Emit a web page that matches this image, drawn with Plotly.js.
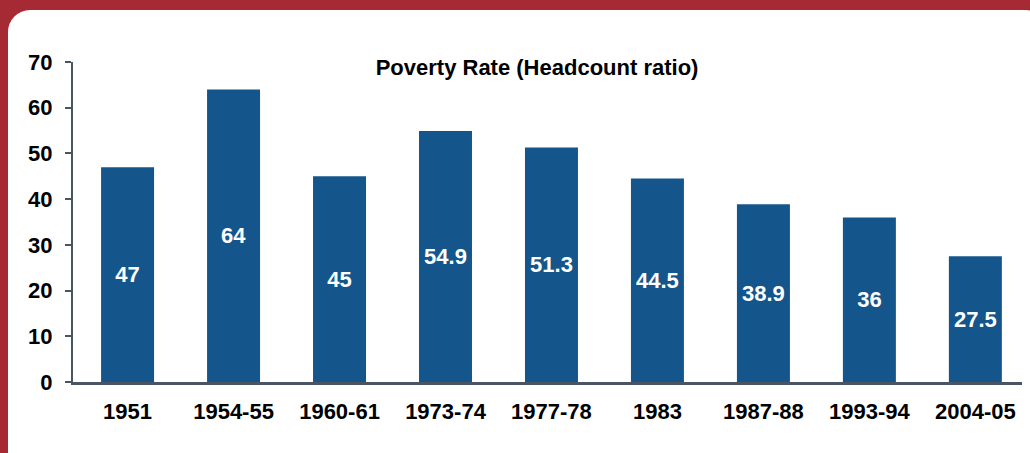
<!DOCTYPE html>
<html>
<head>
<meta charset="utf-8">
<script src="https://cdn.plot.ly/plotly-3.0.1.min.js"></script>
<style>
  html, body { margin: 0; padding: 0; width: 1030px; height: 453px; overflow: hidden; background: #a52a33; }
  #panel { position: absolute; left: 8px; top: 10px; width: 1040px; height: 460px; background: #ffffff;
           border-top-left-radius: 22px; border-top-right-radius: 22px; border-bottom-left-radius: 14px; }
  #chart { position: absolute; left: 0; top: 0; width: 1030px; height: 453px; }
</style>
</head>
<body>
<div id="panel"></div>
<div id="chart"></div>
<script>
const categories = ["1951", "1954-55", "1960-61", "1973-74", "1977-78", "1983", "1987-88", "1993-94", "2004-05"];
const povertyRate = [47, 64, 45, 54.9, 51.3, 44.5, 38.9, 36, 27.5];
const yTicks = [0, 10, 20, 30, 40, 50, 60, 70];

const FONT = "Arial, 'Liberation Sans', sans-serif";

const trace = {
  type: "bar",
  x: categories,
  y: povertyRate,
  text: povertyRate.map(String),
  textposition: "inside",
  insidetextanchor: "middle",
  textangle: 0,
  constraintext: "none",
  textfont: { family: FONT, size: 22, color: "#ffffff", weight: "bold" },
  marker: { color: "#14568b", line: { width: 0 } },
  width: 0.5,
  hoverinfo: "x+y"
};

const layout = {
  width: 1030,
  height: 453,
  paper_bgcolor: "rgba(0,0,0,0)",
  plot_bgcolor: "rgba(0,0,0,0)",
  margin: { l: 73, r: 8, t: 62, b: 71, pad: 0 },
  showlegend: false,
  title: {
    text: "<b>Poverty Rate (Headcount ratio)</b>",
    font: { family: FONT, size: 22, color: "#000000" },
    xref: "container", x: 0.5214, xanchor: "center",
    yref: "container", y: 0.852, yanchor: "middle"
  },
  xaxis: {
    type: "category",
    range: [-0.515, 8.44],
    showline: true, linecolor: "#4a5563", linewidth: 3,
    ticks: "", showgrid: false, zeroline: false,
    tickfont: { family: FONT, size: 22, color: "#000000", weight: "bold" },
    ticklabelstandoff: 8
  },
  yaxis: {
    range: [0, 70],
    tickvals: yTicks,
    ticktext: yTicks.map(String),
    showline: true, linecolor: "#4a5563", linewidth: 2,
    ticks: "outside", ticklen: 6, tickwidth: 2, tickcolor: "#4a5563",
    showgrid: false, zeroline: false,
    tickfont: { family: FONT, size: 22, color: "#000000", weight: "bold" },
    ticklabelstandoff: 8
  },
  bargap: 0.5
};

Plotly.newPlot("chart", [trace], layout, { displayModeBar: false, staticPlot: true });
</script>
</body>
</html>
